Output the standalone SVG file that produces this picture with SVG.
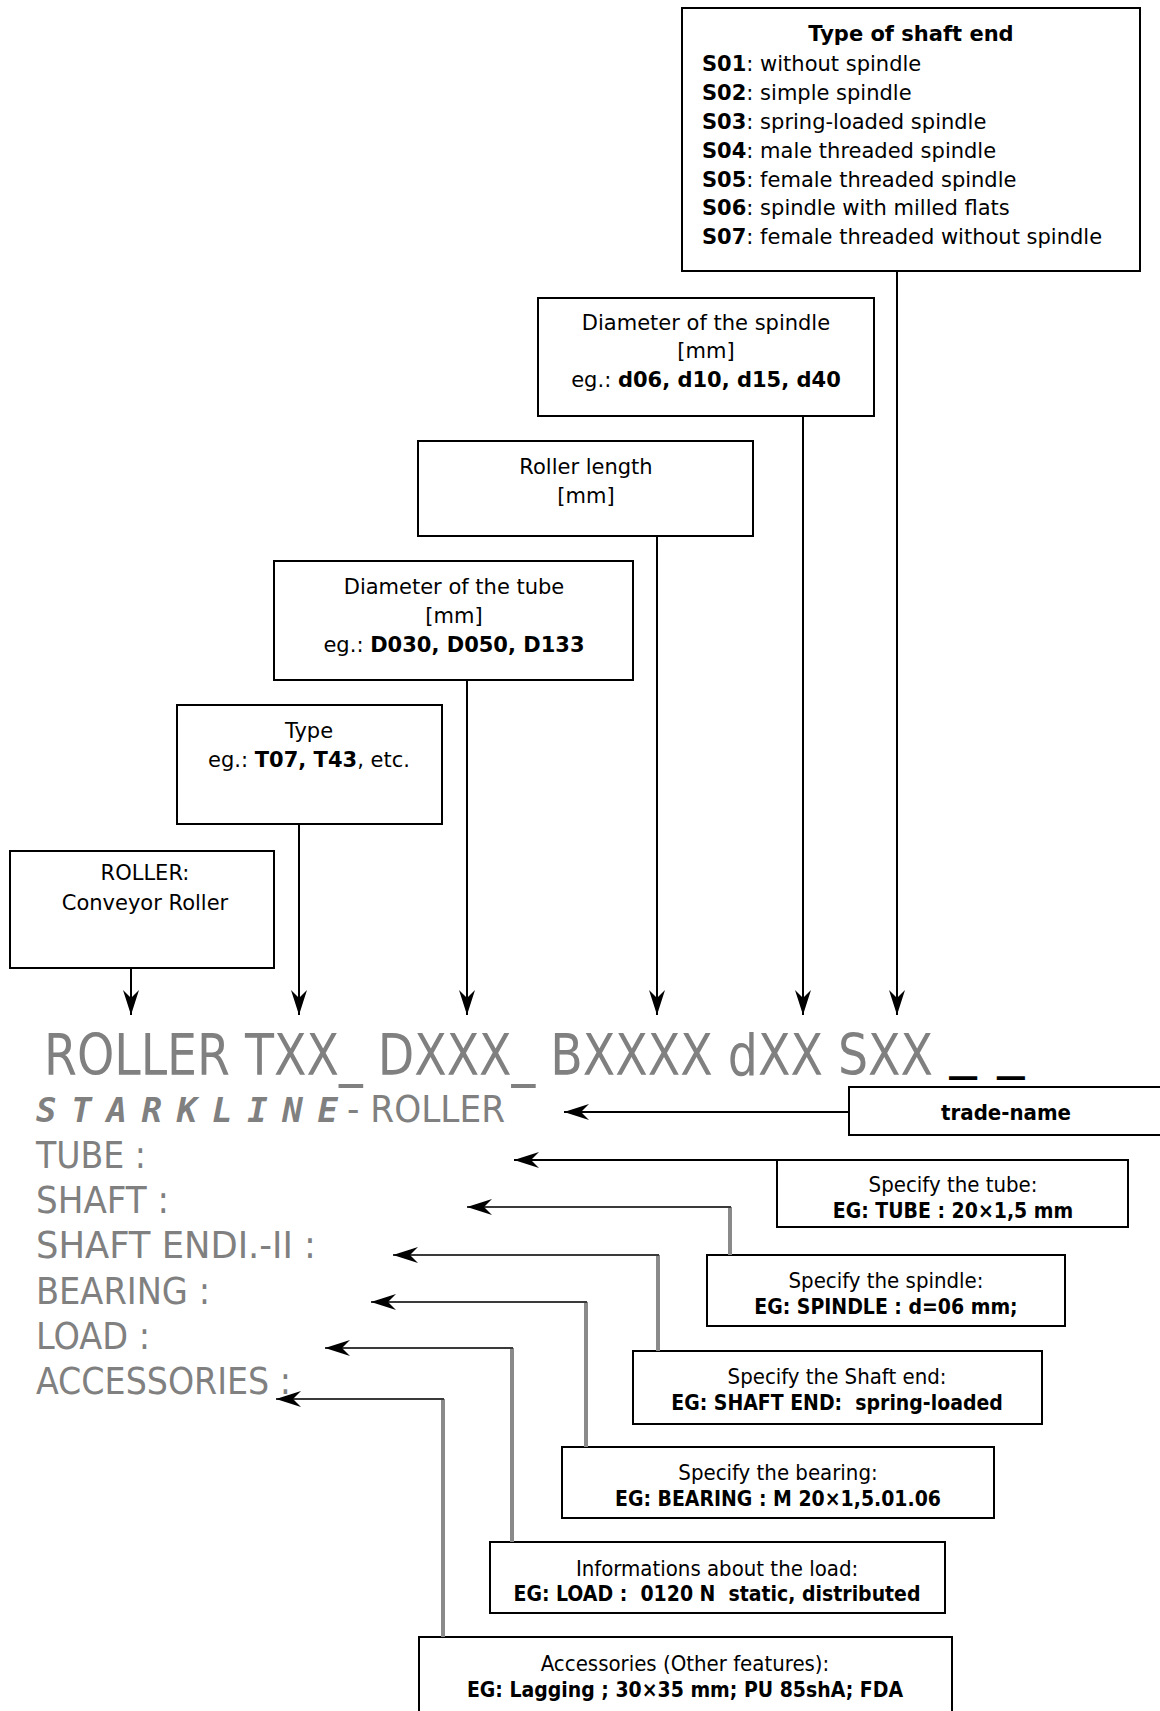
<svg xmlns="http://www.w3.org/2000/svg" width="1160" height="1711" viewBox="0 0 1160 1711">
<style>
.box{fill:#fff;stroke:#000;stroke-width:2}
.t{font-family:'DejaVu Sans',sans-serif;font-size:21px;fill:#000}
.n{font-family:'DejaVu Sans Condensed','DejaVu Sans',sans-serif;font-size:22px;fill:#000}
.s{font-size:21px}
.c{text-anchor:middle}
.b{font-weight:bold}
.g{font-family:'DejaVu Sans Condensed','DejaVu Sans',sans-serif;fill:#808080}
.ar{fill:none;stroke:#000;stroke-width:2}
.h{fill:none;stroke:#3a3a3a;stroke-width:2}
.v{fill:none;stroke:#8a8a8a;stroke-width:4}
</style>
<defs>
<marker id="ah" viewBox="-26 -9 28 18" refX="0" refY="0" markerWidth="28" markerHeight="18" markerUnits="userSpaceOnUse" orient="auto">
<path d="M0,0 L-25,-8 L-17,0 L-25,8 Z" fill="#000"/>
</marker>
</defs>
<rect width="1160" height="1711" fill="#fff"/>

<g id="shaft-end-type">
<rect class="box" x="682" y="8" width="458" height="263"/>
<text class="t c b" x="911" y="41">Type of shaft end</text>
<text class="t" x="702" y="71"><tspan class="b">S01</tspan>: without spindle</text>
<text class="t" x="702" y="100"><tspan class="b">S02</tspan>: simple spindle</text>
<text class="t" x="702" y="129"><tspan class="b">S03</tspan>: spring-loaded spindle</text>
<text class="t" x="702" y="158"><tspan class="b">S04</tspan>: male threaded spindle</text>
<text class="t" x="702" y="187"><tspan class="b">S05</tspan>: female threaded spindle</text>
<text class="t" x="702" y="215"><tspan class="b">S06</tspan>: spindle with milled flats</text>
<text class="t" x="702" y="244"><tspan class="b">S07</tspan>: female threaded without spindle</text>
</g>

<g id="spindle-diameter">
<rect class="box" x="538" y="298" width="336" height="118"/>
<text class="t c" x="706" y="330">Diameter of the spindle</text>
<text class="t c" x="706" y="358">[mm]</text>
<text class="t c" x="706" y="387">eg.: <tspan class="b">d06, d10, d15, d40</tspan></text>
</g>

<g id="roller-length">
<rect class="box" x="418" y="441" width="335" height="95"/>
<text class="t c" x="586" y="474">Roller length</text>
<text class="t c" x="586" y="503">[mm]</text>
</g>

<g id="tube-diameter">
<rect class="box" x="274" y="561" width="359" height="119"/>
<text class="t c" x="454" y="594">Diameter of the tube</text>
<text class="t c" x="454" y="623">[mm]</text>
<text class="t c" x="454" y="652">eg.: <tspan class="b">D030, D050, D133</tspan></text>
</g>

<g id="type">
<rect class="box" x="177" y="705" width="265" height="119"/>
<text class="t c" x="309" y="738">Type</text>
<text class="t c" x="309" y="767">eg.: <tspan class="b">T07, T43</tspan>, etc.</text>
</g>

<g id="roller">
<rect class="box" x="10" y="851" width="264" height="117"/>
<text class="t c" x="145" y="880">ROLLER:</text>
<text class="t c" x="145" y="910">Conveyor Roller</text>
</g>

<g id="labels">
<text x="36" y="1122" font-family="'DejaVu Sans Mono',monospace" font-weight="bold" font-style="italic" font-size="34" fill="#808080" textLength="302" lengthAdjust="spacing">STARKLINE</text>
<text class="g" x="347" y="1122" font-size="37" textLength="158" lengthAdjust="spacingAndGlyphs">- ROLLER</text>
<text class="g" x="36" y="1168" font-size="37" textLength="110" lengthAdjust="spacingAndGlyphs">TUBE :</text>
<text class="g" x="36" y="1213" font-size="37" textLength="133" lengthAdjust="spacingAndGlyphs">SHAFT :</text>
<text class="g" x="36" y="1258" font-size="37" textLength="280" lengthAdjust="spacingAndGlyphs">SHAFT ENDI.-II :</text>
<text class="g" x="36" y="1304" font-size="37" textLength="174" lengthAdjust="spacingAndGlyphs">BEARING :</text>
<text class="g" x="36" y="1349" font-size="37" textLength="114" lengthAdjust="spacingAndGlyphs">LOAD :</text>
<text class="g" x="36" y="1394" font-size="37" textLength="255" lengthAdjust="spacingAndGlyphs">ACCESSORIES :</text>
</g>

<g id="trade-name">
<rect class="box" x="849" y="1087" width="320" height="48"/>
<text class="n c b" x="1006" y="1120">trade-name</text>
</g>

<g id="code">
<text class="g" x="44" y="1075" font-size="57" textLength="889" lengthAdjust="spacingAndGlyphs">ROLLER TXX_ DXXX_ BXXXX dXX SXX</text>
<text x="949" y="1070" font-family="'DejaVu Sans',sans-serif" font-weight="bold" font-size="40" fill="#000" textLength="76" lengthAdjust="spacingAndGlyphs">_ _</text>
</g>

<g id="spec-tube">
<rect class="box" x="777" y="1160" width="351" height="67"/>
<text class="n c" x="953" y="1192">Specify the tube:</text>
<text class="n s c b" x="953" y="1218">EG: TUBE : 20×1,5 mm</text>
</g>

<g id="spec-spindle">
<rect class="box" x="707" y="1255" width="358" height="71"/>
<text class="n c" x="886" y="1288">Specify the spindle:</text>
<text class="n s c b" x="886" y="1314">EG: SPINDLE : d=06 mm;</text>
</g>

<g id="spec-shaft-end">
<rect class="box" x="633" y="1351" width="409" height="73"/>
<text class="n c" x="837" y="1384">Specify the Shaft end:</text>
<text class="n s c b" x="837" y="1410" xml:space="preserve">EG: SHAFT END:  spring-loaded</text>
</g>

<g id="spec-bearing">
<rect class="box" x="562" y="1447" width="432" height="71"/>
<text class="n c" x="778" y="1480">Specify the bearing:</text>
<text class="n s c b" x="778" y="1506">EG: BEARING : M 20×1,5.01.06</text>
</g>

<g id="spec-load">
<rect class="box" x="490" y="1542" width="455" height="71"/>
<text class="n c" x="717" y="1576">Informations about the load:</text>
<text class="n s c b" x="717" y="1601" xml:space="preserve">EG: LOAD :  0120 N  static, distributed</text>
</g>

<g id="spec-accessories">
<rect class="box" x="419" y="1637" width="533" height="90"/>
<text class="n c" x="685" y="1671">Accessories (Other features):</text>
<text class="n s c b" x="685" y="1697">EG: Lagging ; 30×35 mm; PU 85shA; FDA</text>
</g>

<g id="connectors">
<line class="ar" x1="131" y1="968" x2="131" y2="1015" marker-end="url(#ah)"/>
<line class="ar" x1="299" y1="824" x2="299" y2="1015" marker-end="url(#ah)"/>
<line class="ar" x1="467" y1="680" x2="467" y2="1015" marker-end="url(#ah)"/>
<line class="ar" x1="657" y1="536" x2="657" y2="1015" marker-end="url(#ah)"/>
<line class="ar" x1="803" y1="416" x2="803" y2="1015" marker-end="url(#ah)"/>
<line class="ar" x1="897" y1="271" x2="897" y2="1015" marker-end="url(#ah)"/>
<line class="ar" x1="849" y1="1112" x2="564" y2="1112" marker-end="url(#ah)"/>
<line class="ar" x1="777" y1="1160" x2="514" y2="1160" marker-end="url(#ah)"/>
<line class="v" x1="730" y1="1255" x2="730" y2="1207"/>
<line class="h" x1="731" y1="1207" x2="467" y2="1207" marker-end="url(#ah)"/>
<line class="v" x1="658" y1="1351" x2="658" y2="1255"/>
<line class="h" x1="659" y1="1255" x2="393" y2="1255" marker-end="url(#ah)"/>
<line class="v" x1="586" y1="1447" x2="586" y2="1302"/>
<line class="h" x1="587" y1="1302" x2="371" y2="1302" marker-end="url(#ah)"/>
<line class="v" x1="512" y1="1542" x2="512" y2="1348"/>
<line class="h" x1="513" y1="1348" x2="325" y2="1348" marker-end="url(#ah)"/>
<line class="v" x1="443" y1="1637" x2="443" y2="1399"/>
<line class="h" x1="444" y1="1399" x2="276" y2="1399" marker-end="url(#ah)"/>
</g>
</svg>
